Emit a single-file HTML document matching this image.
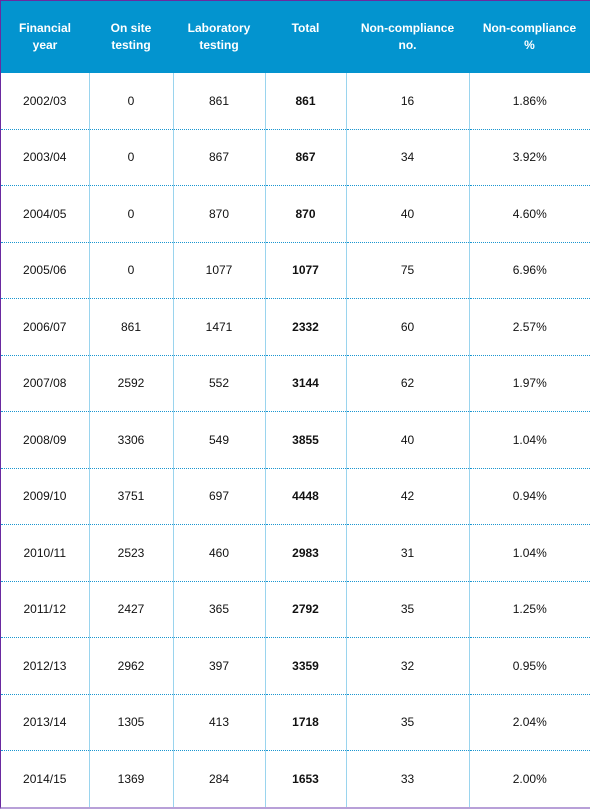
<!DOCTYPE html>
<html><head><meta charset="utf-8"><style>
html,body{margin:0;padding:0;width:590px;height:809px;overflow:hidden;background:#fff;}
.wrap{position:absolute;left:0;top:0;width:590px;height:809px;box-sizing:border-box;border-left:1px solid #6a2aa0;border-top:1px solid #6a2aa0;border-bottom:2px solid #b8a0d8;overflow:hidden;}
table{border-collapse:collapse;width:589px;table-layout:fixed;font-family:"Liberation Sans",sans-serif;font-size:12px;color:#111;}
th{background:#0394cf;color:#fff;font-weight:bold;height:72px;padding:0;text-align:center;line-height:17px;font-size:12px;}
td{height:55.5px;padding:0;text-align:center;border-left:1px solid #9ad4ee;border-bottom:1px dotted #1a96d0;}
td:first-child{border-left:none;}
tr:last-child td{border-bottom:none;}
td.b{font-weight:bold;}
</style></head><body>
<div class="wrap">
<table>
<colgroup><col style="width:88px"><col style="width:84px"><col style="width:92px"><col style="width:81px"><col style="width:123px"><col style="width:121px"></colgroup>
<thead><tr>
<th>Financial<br>year</th>
<th>On site<br>testing</th>
<th>Laboratory<br>testing</th>
<th>Total<br>&nbsp;</th>
<th>Non-compliance<br>no.</th>
<th>Non-compliance<br>%</th>
</tr></thead>
<tbody>
<tr><td>2002/03</td><td>0</td><td>861</td><td class="b">861</td><td>16</td><td>1.86%</td></tr>
<tr><td>2003/04</td><td>0</td><td>867</td><td class="b">867</td><td>34</td><td>3.92%</td></tr>
<tr><td>2004/05</td><td>0</td><td>870</td><td class="b">870</td><td>40</td><td>4.60%</td></tr>
<tr><td>2005/06</td><td>0</td><td>1077</td><td class="b">1077</td><td>75</td><td>6.96%</td></tr>
<tr><td>2006/07</td><td>861</td><td>1471</td><td class="b">2332</td><td>60</td><td>2.57%</td></tr>
<tr><td>2007/08</td><td>2592</td><td>552</td><td class="b">3144</td><td>62</td><td>1.97%</td></tr>
<tr><td>2008/09</td><td>3306</td><td>549</td><td class="b">3855</td><td>40</td><td>1.04%</td></tr>
<tr><td>2009/10</td><td>3751</td><td>697</td><td class="b">4448</td><td>42</td><td>0.94%</td></tr>
<tr><td>2010/11</td><td>2523</td><td>460</td><td class="b">2983</td><td>31</td><td>1.04%</td></tr>
<tr><td>2011/12</td><td>2427</td><td>365</td><td class="b">2792</td><td>35</td><td>1.25%</td></tr>
<tr><td>2012/13</td><td>2962</td><td>397</td><td class="b">3359</td><td>32</td><td>0.95%</td></tr>
<tr><td>2013/14</td><td>1305</td><td>413</td><td class="b">1718</td><td>35</td><td>2.04%</td></tr>
<tr><td>2014/15</td><td>1369</td><td>284</td><td class="b">1653</td><td>33</td><td>2.00%</td></tr>
</tbody></table></div>
</body></html>
